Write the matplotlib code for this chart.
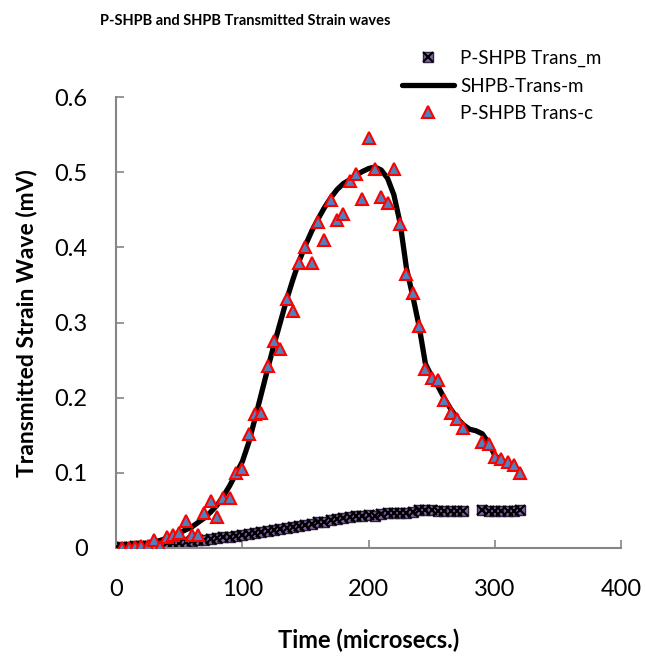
import matplotlib
matplotlib.use('Agg')
import matplotlib.pyplot as plt
import numpy as np
from matplotlib.legend_handler import HandlerTuple

plt.rcParams['font.family'] = ['Lato', 'DejaVu Sans']

# P-SHPB Trans_m (measured), time in microsecs
t_m = [0, 5, 10, 15, 20, 25, 30, 35, 40, 45, 50, 55, 60, 65, 70, 75, 80, 85, 90, 95,
       100, 105, 110, 115, 120, 125, 130, 135, 140, 145, 150, 155, 160, 165, 170, 175,
       180, 185, 190, 195, 200, 205, 210, 215, 220, 225, 230, 235, 240, 245, 250, 255,
       260, 265, 270, 275, 290, 295, 300, 305, 310, 315, 320]
pshpb_m = [0.000, 0.001, 0.001, 0.002, 0.003, 0.003, 0.004, 0.005, 0.006, 0.006, 0.007,
           0.008, 0.009, 0.010, 0.011, 0.012, 0.013, 0.014, 0.015, 0.016, 0.017, 0.019,
           0.020, 0.021, 0.022, 0.024, 0.025, 0.026, 0.028, 0.029, 0.030, 0.032, 0.034,
           0.035, 0.037, 0.039, 0.040, 0.041, 0.043, 0.042, 0.044, 0.043, 0.045, 0.046,
           0.046, 0.047, 0.047, 0.048, 0.050, 0.050, 0.051, 0.049, 0.049, 0.049, 0.049,
           0.049, 0.050, 0.049, 0.049, 0.049, 0.049, 0.049, 0.051]

# SHPB-Trans-m
t_line = list(range(0, 325, 5))
shpb_m = [0.000, 0.001, 0.002, 0.003, 0.004, 0.006, 0.008, 0.010, 0.013, 0.016, 0.020,
          0.024, 0.028, 0.034, 0.040, 0.048, 0.057, 0.069, 0.083, 0.099, 0.115, 0.140,
          0.172, 0.205, 0.238, 0.270, 0.300, 0.330, 0.357, 0.382, 0.403, 0.422, 0.438,
          0.453, 0.466, 0.477, 0.485, 0.490, 0.496, 0.501, 0.505, 0.507, 0.503, 0.492,
          0.470, 0.432, 0.372, 0.335, 0.295, 0.245, 0.228, 0.215, 0.199, 0.185, 0.173,
          0.164, 0.158, 0.156, 0.152, 0.140, 0.123, 0.117, 0.113, 0.108, 0.102]

# P-SHPB Trans-c (calculated)
t_c = [5, 10, 15, 20, 25, 30, 35, 40, 45, 50, 55, 60, 65, 70, 75, 80, 85, 90, 95, 100,
       105, 110, 115, 120, 125, 130, 135, 140, 145, 150, 155, 160, 165, 170, 175, 180,
       185, 190, 195, 200, 205, 210, 215, 220, 225, 230, 235, 240, 245, 250, 255, 260,
       265, 270, 275, 290, 295, 300, 305, 310, 315, 320]
pshpb_c = [0.000, 0.000, 0.001, 0.002, 0.003, 0.011, 0.001, 0.015, 0.017, 0.020, 0.036,
           0.017, 0.017, 0.047, 0.063, 0.041, 0.066, 0.066, 0.100, 0.105, 0.152, 0.178,
           0.180, 0.242, 0.275, 0.265, 0.331, 0.315, 0.379, 0.401, 0.379, 0.434, 0.410,
           0.463, 0.437, 0.445, 0.488, 0.498, 0.465, 0.545, 0.505, 0.467, 0.459, 0.504,
           0.431, 0.364, 0.340, 0.295, 0.238, 0.226, 0.223, 0.197, 0.180, 0.172, 0.160,
           0.141, 0.138, 0.121, 0.118, 0.115, 0.110, 0.100]

fig = plt.figure(figsize=(6.45, 6.61), dpi=100)
ax = fig.add_axes([0.18, 0.171, 0.783, 0.682])

m1 = ax.plot(t_m, pshpb_m, linestyle='none', marker='s', markersize=7.5,
             markerfacecolor='#8064A2', markeredgecolor='#2e2340', markeredgewidth=1.0,
             zorder=2)[0]
m1x = ax.plot(t_m, pshpb_m, linestyle='none', marker='x', markersize=6.5,
              markeredgecolor='black', markeredgewidth=1.5, zorder=2)[0]
l2 = ax.plot(t_line, shpb_m, color='black', linewidth=3.8, zorder=3,
             solid_capstyle='round')[0]
m3 = ax.plot(t_c, pshpb_c, linestyle='none', marker='^', markersize=9,
             markerfacecolor='#4F81BD', markeredgecolor='red', markeredgewidth=1.5,
             zorder=4)[0]

ax.set_xlim(0, 400)
ax.set_ylim(0, 0.6)
ax.set_xticks([0, 100, 200, 300, 400])
ax.set_yticks([0, 0.1, 0.2, 0.3, 0.4, 0.5, 0.6])
ax.set_yticklabels(['0', '0.1', '0.2', '0.3', '0.4', '0.5', '0.6'])

for s in ['top', 'right']:
    ax.spines[s].set_visible(False)
for s in ['left', 'bottom']:
    ax.spines[s].set_color('#868686')
    ax.spines[s].set_linewidth(1.5)
ax.tick_params(axis='both', direction='in', length=6, width=1.2, color='#868686',
               labelsize=17)
ax.tick_params(axis='x', pad=22)
ax.tick_params(axis='y', pad=20.5)

ax.set_xlabel('Time (microsecs.)', fontsize=17, fontweight='bold', labelpad=21)
ax.set_ylabel('Transmitted Strain Wave (mV)', fontsize=16.5, fontweight='bold',
              labelpad=12.5)
fig.text(0.155, 0.968, 'P-SHPB and SHPB Transmitted Strain waves', fontsize=10.5,
         fontweight='bold', ha='left', va='center')

leg = fig.legend([(m1, m1x), l2, m3], ['P-SHPB Trans_m', 'SHPB-Trans-m', 'P-SHPB Trans-c'],
                 handler_map={tuple: HandlerTuple(ndivide=1)},
                 loc='upper left', bbox_to_anchor=(0.597, 0.95), frameon=False,
                 fontsize=13.5, handlelength=2.8, handletextpad=0.3, labelspacing=0.55)

fig.savefig('out.png', dpi=100)
